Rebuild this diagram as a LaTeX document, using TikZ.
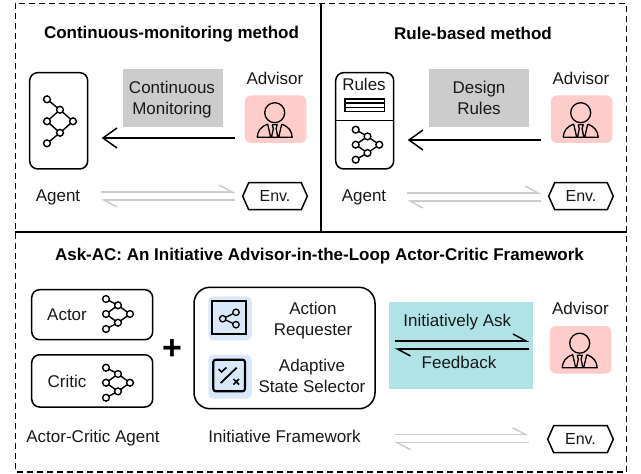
\documentclass[tikz,border=0pt]{standalone}
\usepackage{fontspec}
\setmainfont{Liberation Sans}
\usetikzlibrary{arrows.meta}
\definecolor{pinkbg}{HTML}{FFCCCC}
\definecolor{graybg}{HTML}{CCCCCC}
\definecolor{tealbg}{HTML}{B0E3E6}
\definecolor{bluebg}{HTML}{DAE8FC}
\tikzset{
  every node/.style={font=\fontsize{17}{20}\selectfont,inner sep=0pt,outer sep=0pt,text=black!90},
  txt/.style={align=center},
  ttl/.style={font=\fontsize{17}{20}\selectfont\bfseries,text=black},
  card/.style={draw=black,line width=1.5pt,rounded corners=8pt},
  pinkbox/.style={fill=pinkbg,rounded corners=6pt,minimum width=61.5pt,minimum height=47.5pt},
  graybox/.style={fill=graybg,minimum width=100pt,minimum height=58pt,align=center},
  tile/.style={fill=bluebg,rounded corners=5pt,minimum width=43.5pt,minimum height=44pt},
  strong/.style={line width=1.5pt,-{Straight Barb[length=14pt,width=20pt,line width=1.5pt]}},
  halfup/.style={line width=1.5pt,-{Straight Barb[harpoon,length=13pt,width=14pt,line width=1.5pt]}},
  graypipe/.style={draw=graybg},
  panel/.style={line width=1.5pt,dash pattern=on 6pt off 4pt},
  envbox/.style={minimum width=#1,minimum height=27pt,font=\fontsize{16}{18}\selectfont},
  person/.pic={
    \draw[line width=1.3pt] (0,0) circle (10);
    \draw[line width=1.3pt,line join=round] (-17.5,24.6) .. controls (-17,18) and (-14,14) .. (-7,11.5) -- (-4,24.6)
       (7,11.5) .. controls (14,14) and (17,18) .. (17.5,24.6) -- (-17.5,24.6)
       (7,11.5) -- (4,24.6)
       (-2.5,12) -- (2.5,12) -- (1.4,16) -- (3.2,24.6) (-2.5,12) -- (-1.4,16) -- (-3.2,24.6);
  }
}
\newcommand{\tworoutes}[3]{%
  \draw[#1,halfup] (#2,#3) -- (#2+134,#3);
  \draw[#1,halfup] (#2+134,#3+8) -- (#2,#3+8);
}
% x, y, half width, outer half height, inner half height
\newcommand{\neticon}[5]{%
  \begin{scope}[shift={(#1,#2)}]
    \draw[line width=1.4pt] (-#3,-#4)--(0,-#5)--(-#3,0)--(0,#5)--(#3,0)--(0,-#5) (0,#5)--(-#3,#4);
    \foreach \a/\b in {-#3/-#4,0/-#5,-#3/0,#3/0,0/#5,-#3/#4}{\draw[line width=1.4pt,fill=white] (\a,\b) circle (3.4);}
  \end{scope}}
\newcommand{\hexa}[1]{%
  \draw[line width=1.5pt,line join=miter] ([xshift=6pt]#1.north west) -- ([xshift=-6pt]#1.north east) -- (#1.east) -- ([xshift=-6pt]#1.south east) -- ([xshift=6pt]#1.south west) -- (#1.west) -- cycle;}
\begin{document}
\begin{tikzpicture}[x=1pt,y=-1pt]
\useasboundingbox (0,0) rectangle (641,474);
\fill[white] (0,0) rectangle (641,474);
% frames
\coordinate (fa) at (15.3,3.3);
\coordinate (fb) at (626.7,471.8);
\draw[panel] (fa) rectangle (fb);
\draw[line width=1.6pt] (15.3,232) -- (626.7,232);
\draw[line width=1.6pt] (321,3.3) -- (321,232);

% titles
\node[ttl] (t1) at (171.5,34.5) {Continuous-monitoring method};
\node[ttl] (t2) at (473,33) {Rule-based method};
\node[ttl] (t3) at (319.5,256) {Ask-AC: An Initiative Advisor-in-the-Loop Actor-Critic Framework};

% panel 1
\node[card,minimum width=58pt,minimum height=96.3pt] (agent1) at (58.7,120.8) {};
\neticon{60}{121.3}{13}{22}{11.5}
\node[graybox] (gray1) at (173,98) {};
\node[txt] (gray1t) at (172,100) {Continuous\\[1.2pt]Monitoring};
\node (adv1) at (275,78) {Advisor};
\node[pinkbox] (pink1) at (275.7,119.2) {};
\pic at (274.7,112.7) {person};
\node (ag1) at (58,197) {Agent};
\node[envbox=64.6pt] (env1) at (275,196.2) {Env.};
\hexa{env1}
\coordinate (r1) at (0,138);
\draw[strong,shorten <=10pt,shorten >=14pt] (pink1.west |- r1) -- (agent1.east |- r1);
\tworoutes{graypipe}{101}{192}

% panel 2
\node[card,minimum width=58pt,minimum height=96.3pt] (agent2) at (364.7,120.8) {};
\draw[line width=1.3pt] (agent2.west |- 0,120.7) -- (agent2.east |- 0,120.7);
\node (rules) at (364,84) {Rules};
\draw[line width=1.3pt] (345,99) rectangle (384.3,111.3) (345,103.1) -- (384.3,103.1) (345,107.2) -- (384.3,107.2);
\neticon{367.5}{144.7}{11.8}{15}{8.3}
\node[graybox] (gray2) at (479,98) {Design\\[1.2pt]Rules};
\node (adv2) at (581,78) {Advisor};
\node[pinkbox] (pink2) at (581.7,119.2) {};
\pic at (580.7,112.7) {person};
\node (ag2) at (364,197) {Agent};
\node[envbox=64.6pt] (env2) at (581,196.2) {Env.};
\hexa{env2}
\coordinate (r2) at (0,140);
\draw[strong,shorten <=10pt,shorten >=14pt] (pink2.west |- r2) -- (agent2.east |- r2);
\tworoutes{graypipe}{407}{193}

% panel 3
\node[card,minimum width=121pt,minimum height=50pt] (actor) at (92.2,314.7) {};
\node (actort) at (67,314.7) {Actor};
\neticon{118}{314}{12}{15}{8.7}
\node[card,minimum width=121pt,minimum height=52.3pt] (critic) at (92.2,380.9) {};
\node (critict) at (67,381) {Critic};
\neticon{118}{382.7}{12}{15}{8.7}
\node[font=\fontsize{34}{34}\selectfont\bfseries,text=black] (plus) at (172,350) {+};
\node[draw=black,line width=1.5pt,rounded corners=16pt,minimum width=181pt,minimum height=121.4pt] (frame) at (284.5,348) {};
\node[tile] (tile1) at (230,318.3) {};
\node[tile] (tile2) at (230,376.7) {};
\draw[line width=2.2pt] (212.3,301) rectangle (246,334.3);
\draw[line width=1.3pt] (236,312.3) -- (222.7,318.7) -- (236,324.7);
\foreach \p in {(222.7,318.7),(236,312.3),(236,324.7)}{\draw[line width=1.3pt,fill=bluebg] \p circle (3.2);}
\draw[line width=2.2pt,rounded corners=2.5pt] (213.3,359.7) rectangle (245,391.3);
\draw[line width=1.8pt] (220.7,383) -- (236.7,367.7);
\draw[line width=1.7pt] (218.5,369) -- (221.5,372) -- (226.5,367.5);
\draw[line width=1.7pt] (233.5,379) -- (239,384.5) (239,379) -- (233.5,384.5);
\node[txt] (ar) at (313,321) {Action\\[1.2pt]Requester};
\node[txt] (as) at (312,375.7) {Adaptive\\[1.2pt]State Selector};
\node (acl) at (93,438) {Actor-Critic Agent};
\node (ifl) at (284.5,436.5) {Initiative Framework};
\node[fill=tealbg,minimum width=144pt,minimum height=86.7pt] (teal) at (461,345.3) {};
\node (ask) at (457.3,322) {Initiatively Ask};
\node (fb2) at (459,362) {Feedback};
\draw[halfup] (394.5,341) -- (529,341);
\draw[halfup] (529,349) -- (394.5,349);
\node (adv3) at (580.5,308.5) {Advisor};
\node[pinkbox] (pink3) at (580.7,349.8) {};
\pic at (579.7,343.2) {person};
\node[envbox=65.6pt] (env3) at (580.5,439.2) {Env.};
\hexa{env3}
\tworoutes{graypipe}{394.5}{434.7}
\end{tikzpicture}
\end{document}
